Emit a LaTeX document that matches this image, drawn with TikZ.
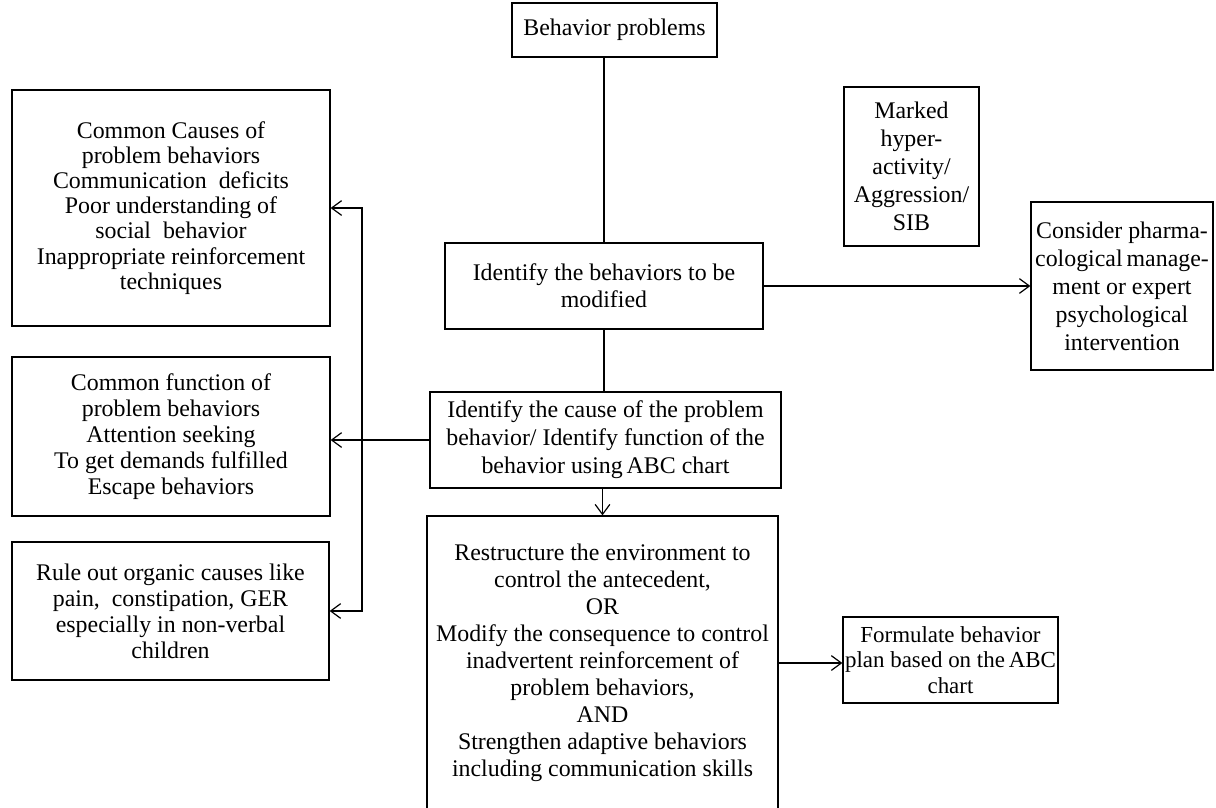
\documentclass[tikz,border=0pt]{standalone}
\usepackage{fontspec}
\setmainfont{Liberation Serif}
\usetikzlibrary{arrows.meta}

\tikzset{
  box/.style = {draw, line width=.9pt, align=center, inner sep=0pt},
  link/.style = {line width=.9pt},
  barb/.tip = {Straight Barb[length=7.5pt, width=11pt, line width=.9pt]},
  arrow/.style = {link, -barb},
  twoarrow/.style = {link, barb-barb},
}
\newcommand{\txt}[1]{\fontsize{17.9}{#1}\selectfont}

\begin{document}
\begin{tikzpicture}[x = .75pt, y = -.75pt]
		\useasboundingbox (0,0) rectangle (1216,807);
		\clip (0,0) rectangle (1216,807);

		\node (prob) at (614.5,30) [box, minimum width=153.8pt, minimum height=40.5pt, font=\txt{20pt}] {Behavior problems};
		\node (ident) at (604,286) [box, minimum width=238.5pt, minimum height=64.5pt, font=\txt{20.5pt}] {Identify the behaviors to be\\ modified};
		\node (marked) at (911.5,166.5) [box, minimum width=101.3pt, minimum height=119.3pt, font=\txt{21pt}] {Marked\\ hyper-\\ activity/\\ Aggression/\\ SIB};
		\node (pharm) at (1122,286) [box, minimum width=136.5pt, minimum height=126pt, font=\txt{21pt}] {Consider pharma-\\ cological\,manage-\\ ment or expert\\ psychological\\ intervention};

		\node (causes) at (171,208) [box, minimum width=238.5pt, minimum height=177pt, font=\txt{18.8pt}] {Common Causes of\\ problem behaviors\\ Communication\ \ deficits\\ Poor understanding of\\ social\ \ behavior\\ Inappropriate reinforcement\\ techniques};
		\node (func) at (171,436.5) [box, minimum width=238.5pt, minimum height=119.3pt, font=\txt{19.5pt}] {Common function of\\ problem behaviors\\ Attention seeking\\ To get demands fulfilled\\ Escape behaviors};
		\node (rule) at (170.5,611) [box, minimum width=237.8pt, minimum height=103.5pt, font=\txt{19.5pt}] {Rule out organic causes like\\ pain,\ \ constipation, GER\\ especially in non-verbal\\ children};

		\node (cause) at (605.5,440) [box, minimum width=263.3pt, minimum height=72pt, font=\txt{21pt}] {Identify the cause of the problem\\ behavior/ Identify function of the\\ behavior using\,ABC chart};
		\node (restr) at (602.5,663) [box, minimum width=263.3pt, minimum height=220.5pt, font=\txt{20.3pt}] {Restructure the environment to\\ control the antecedent,\\ OR\\ Modify the consequence to control\\ inadvertent reinforcement of\\ problem behaviors,\\ AND\\ Strengthen adaptive behaviors\\ including communication skills};
		\node (formu) at (950.5,660) [box, minimum width=161.3pt, minimum height=64.5pt, font=\fontsize{17.2}{19pt}\selectfont] {Formulate behavior\\ plan based on the\,ABC\\ chart};

		\coordinate (bus) at (362,440);

		\draw [link] (ident.north) -- (ident.north |- prob.south);
		\draw [link] (ident.south) -- (ident.south |- cause.north);
		\draw [arrow] (ident.east) -- (pharm.west |- ident.east);
		\draw [arrow] (cause.west) -- (func.east |- cause.west);
		\draw [twoarrow] (causes.east) -| (bus) |- (rule.east);
		\draw [arrow] (cause.south -| restr.north) -- (restr.north);
		\draw [arrow] (restr.east) -- (formu.west |- restr.east);
		\end{tikzpicture}
\end{document}
